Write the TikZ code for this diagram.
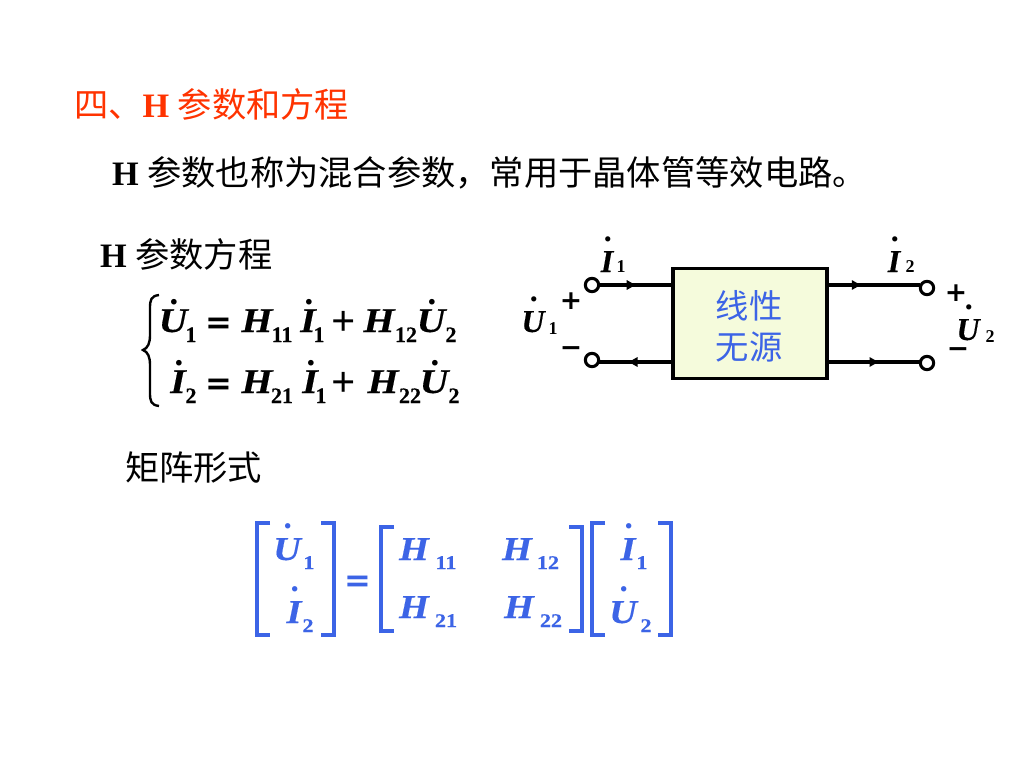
\documentclass[tikz,border=0pt]{standalone}
\usepackage{fontspec}
\usepackage{xcolor}
\usetikzlibrary{arrows.meta,decorations.markings}
\setmainfont{Liberation Serif}
\newfontfamily\cjk{Noto Sans CJK SC}
\newfontfamily\eqfont[FakeStretch=1.15,FakeBold=0.4]{Liberation Serif}
\newfontfamily\subfont[FakeBold=0.3]{Liberation Serif}
\newfontfamily\signfont{DejaVu Sans}
\newcommand{\dotted}[2][0.8em]{\ooalign{\hfil\hskip0.05em\raisebox{#1}{\normalfont\bfseries.}\hfil\cr #2\cr}}
\newcommand{\heading}{\fontsize{25.7}{30}\selectfont}
\tikzset{
  every node/.style={inner sep=0pt,outer sep=0pt},
  headtext/.style={anchor=west,font=\heading},
  eqvar/.style={anchor=base,font=\fontsize{26}{26}\selectfont\eqfont\bfseries\itshape},
  eqsub/.style={anchor=base,font=\fontsize{16.5}{16.5}\selectfont\subfont\bfseries},
  eqeq/.style={anchor=base,font=\fontsize{24}{24}\selectfont\signfont\bfseries},
  eqplus/.style={anchor=base,font=\fontsize{32}{32}\selectfont\bfseries},
  matvar/.style={anchor=base,font=\fontsize{25}{25}\selectfont\eqfont\bfseries\itshape,text=matblue},
  matsub/.style={anchor=base,font=\fontsize{14.5}{14.5}\selectfont\eqfont\bfseries,text=matblue},
  cirvar/.style={anchor=base,font=\fontsize{24}{24}\selectfont\subfont\bfseries\itshape},
  cirsub/.style={anchor=base,font=\fontsize{13.5}{13.5}\selectfont\bfseries},
  cirsign/.style={anchor=center,font=\fontsize{20}{20}\selectfont\signfont\bfseries},
  terminal/.style={circle,draw,line width=2.3pt,fill=white,minimum size=10pt},
  wire/.style={line width=2.3pt},
  midarrow/.style={postaction={decorate},decoration={markings,
    mark=at position #1 with {\arrow{Latex[length=8pt,width=8pt]}}}},
  bracket/.style={line width=2.4pt,matblue}
}
\begin{document}
\begin{tikzpicture}[x=0.75pt,y=-0.75pt]
\definecolor{matblue}{RGB}{60,100,230}
\definecolor{headred}{RGB}{255,51,0}
\definecolor{boxfill}{RGB}{245,251,220}
\useasboundingbox (0,0) rectangle (1024,768);
\fill[white] (0,0) rectangle (1024,768);

% Headings
\node[headtext,text=headred] (title) at (74,104) {{\cjk 四、}\textbf{H} {\cjk 参数和方程}};
\node[headtext] (intro) at (112,173) {\textbf{H} {\cjk 参数也称为混合参数，常用于晶体管等效电路。}};
\node[headtext] (eqtitle) at (100,254) {\textbf{H} {\cjk 参数方程}};
\node[headtext] (mattitle) at (125,468) {{\cjk 矩阵形式}};

% Equations
\draw[line width=1.8pt] (159,295) .. controls (151,296) and (150,300) .. (150,308) -- (150,335)
  .. controls (150,343) and (148,348) .. (143,350) .. controls (148,352) and (150,357) .. (150,365)
  -- (150,393) .. controls (150,401) and (151,405) .. (159,406);
\foreach \y/\a/\b/\c/\d/\e/\f/\g/\xa/\xb/\xc/\xd/\xe/\xf in {
  332/U/1/11/1/12/U/2/173/191/282/308/394/431,
  393/I/2/21/1/22/U/2/178/191/282/310/398/434}{
  \pgfmathsetmacro{\ys}{\y+10}
  \pgfmathsetmacro{\yo}{\y+1.5}
  \node[eqvar] (eq\y a) at (\xa,\y) {\dotted{\a}};
  \node[eqsub] (eq\y b) at (\xb,\ys) {\b};
  \node[eqeq] (eq\y c) at (219,\yo) {=};
  \node[eqvar] (eq\y d) at (257,\y) {H};
  \node[eqsub] (eq\y e) at (\xc,\ys) {\c};
  \node[eqvar] (eq\y f) at (\xd,\y) {\dotted{I}};
  \node[eqsub] (eq\y g) at (\xd+11,\ys) {\d};
  \node[eqplus] (eq\y h) at (344,\y+3) {+};
  \node[eqvar] (eq\y i) at (\xe-15,\y) {H};
  \node[eqsub] (eq\y j) at (\xe+12,\ys) {\e};
  \node[eqvar] (eq\y k) at (\xf,\y) {\dotted{\f}};
  \node[eqsub] (eq\y l) at (\xf+20,\ys) {\g};
}

% Two-port
\node[draw,line width=2.4pt,fill=boxfill,minimum width=115.5pt,minimum height=83pt] (port) at (750,323.5) {};
\node[align=center,text=matblue,font=\fontsize{25}{31}\selectfont\cjk] (porttext) at (749,326) {线性\\无源};
\node[terminal] (tla) at (592,285) {};
\node[terminal] (tlb) at (592,360) {};
\node[terminal] (tra) at (927,288) {};
\node[terminal] (trb) at (927,363) {};
\coordinate (pla) at (port.west |- tla);
\coordinate (plb) at (673,362);
\coordinate (pra) at (827,285);
\coordinate (prb) at (827,362);
\draw[wire,midarrow=0.52] (tla.east) -- (pla);
\draw[wire,midarrow=0.62] (plb) -- (tlb.east |- plb);
\draw[wire,midarrow=0.38] (pra) -- (tra.west |- pra);
\draw[wire,midarrow=0.57] (prb) -- (trb.west |- prb);

% Port labels
\node[cirvar] (il) at (607,272) {\dotted[0.95em]{I}};
\node[cirsub] (ils) at (621,272) {1};
\node[cirvar] (ir) at (894,272) {\dotted[0.95em]{I}};
\node[cirsub] (irs) at (910,272) {2};
\node[cirvar] (ul) at (533,332) {\dotted[0.95em]{U}};
\node[cirsub] (uls) at (553,334) {1};
\node[cirvar] (ur) at (968,340) {\dotted[0.95em]{U}};
\node[cirsub] (urs) at (990,342) {2};
\node[cirsign] (pl) at (571,301) {+};
\node[cirsign] (ml) at (571,352) {−};
\node[cirsign] (pr) at (956,293) {+};
\node[cirsign] (mr) at (958,353) {−};

% Matrix form
\foreach \xl/\xr/\yt/\yb/\s in {257/334/523/635/13,381/582/527/631/13,592/671/523/635/13}{
  \draw[bracket] (\xl+\s,\yt) -- (\xl,\yt) -- (\xl,\yb) -- (\xl+\s,\yb);
  \draw[bracket] (\xr-\s,\yt) -- (\xr,\yt) -- (\xr,\yb) -- (\xr-\s,\yb);
}
\node[eqeq,text=matblue] (eq) at (358,591) {=};
\foreach \t/\x/\y/\u/\sx [count=\i] in {
  U/287/560/1/309,I/294/623/2/308,I/628/560/1/642,U/623/623/2/646}{
  \pgfmathsetmacro{\ys}{\y+9}
  \node[matvar] (mv\i) at (\x,\y) {\dotted[0.95em]{\t}};
  \node[matsub] (ms\i) at (\sx,\ys) {\u};
}
\foreach \x/\y/\u/\sx [count=\i] in {
  414/560/11/446,517/560/12/548,414/618/21/446,519/618/22/551}{
  \pgfmathsetmacro{\ys}{\y+9}
  \node[matvar] (hv\i) at (\x,\y) {H};
  \node[matsub] (hs\i) at (\sx,\ys) {\u};
}
\end{tikzpicture}
\end{document}
